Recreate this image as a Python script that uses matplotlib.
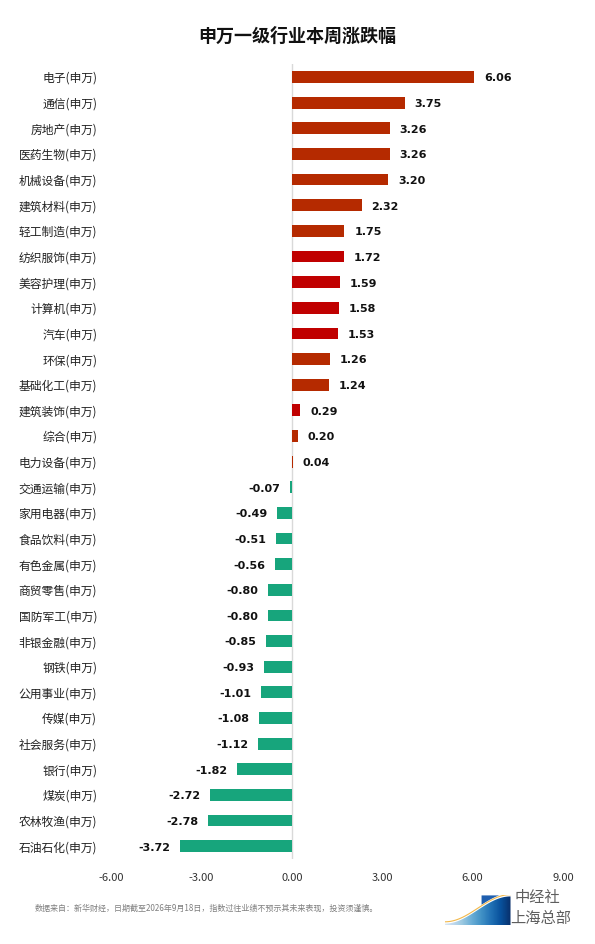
import matplotlib
matplotlib.use("Agg")
import matplotlib.pyplot as plt
import numpy as np
from matplotlib.patches import Polygon

plt.rcParams['font.family'] = ['Noto Sans CJK SC', 'DejaVu Sans']

# data
industries = ['电子', '通信', '房地产', '医药生物', '机械设备', '建筑材料', '轻工制造',
              '纺织服饰', '美容护理', '计算机', '汽车', '环保', '基础化工', '建筑装饰',
              '综合', '电力设备', '交通运输', '家用电器', '食品饮料', '有色金属',
              '商贸零售', '国防军工', '非银金融', '钢铁', '公用事业', '传媒', '社会服务',
              '银行', '煤炭', '农林牧渔', '石油石化']
changes = [6.06, 3.75, 3.26, 3.26, 3.20, 2.32, 1.75, 1.72, 1.59, 1.58, 1.53, 1.26,
           1.24, 0.29, 0.20, 0.04, -0.07, -0.49, -0.51, -0.56, -0.80, -0.80, -0.85,
           -0.93, -1.01, -1.08, -1.12, -1.82, -2.72, -2.78, -3.72]
red_ones = ['纺织服饰', '美容护理', '计算机', '汽车', '建筑装饰']
x_ticks = [-6, -3, 0, 3, 6, 9]

labels = [s + '(申万)' for s in industries]
colors = []
for name, v in zip(industries, changes):
    if v < 0:
        colors.append('#17A57C')
    elif name in red_ones:
        colors.append('#C00000')
    else:
        colors.append('#B52A00')

fig = plt.figure(figsize=(5.95, 9.44), dpi=100)
ax = fig.add_axes([0.1866, 0.090, 0.7594, 0.842])

y = np.arange(len(labels))
ax.barh(y, changes, height=0.46, color=colors)
ax.set_ylim(len(labels) - 0.5, -0.5)
ax.set_xlim(-6, 9)
ax.set_yticks(y)
ax.set_yticklabels(labels, fontsize=8.5, color='#222222')
ax.set_xticks(x_ticks)
ax.set_xticklabels(['%.2f' % t for t in x_ticks], fontsize=8, color='#333333')
ax.tick_params(axis='both', length=0)
ax.tick_params(axis='y', pad=10)
ax.tick_params(axis='x', pad=10)
for sp in ax.spines.values():
    sp.set_visible(False)
ax.axvline(0, color='#D9D9D9', lw=1, zorder=0)

for yi, v in zip(y, changes):
    if v >= 0:
        ax.annotate('%.2f' % v, (v, yi), xytext=(7, -1), textcoords='offset points',
                    ha='left', va='center', fontsize=8, fontweight='bold',
                    color='#111111', family='DejaVu Sans')
    else:
        ax.annotate('%.2f' % v, (v, yi), xytext=(-7, -1), textcoords='offset points',
                    ha='right', va='center', fontsize=8, fontweight='bold',
                    color='#111111', family='DejaVu Sans')

fig.text(0.5, 0.961, '申万一级行业本周涨跌幅', ha='center', va='center',
         fontsize=13, fontweight='bold', color='#111111')

fig.text(0.059, 0.038, '数据来自：新华财经，日期截至2026年9月18日，指数过往业绩不预示其未来表现，投资须谨慎。',
         ha='left', va='center', fontsize=5.8, color='#7F7F7F')

# logo
lax = fig.add_axes([0.748, 0.020, 0.11, 0.032])
lax.set_xlim(0, 1)
lax.set_ylim(0, 1)
lax.axis('off')
grad = np.linspace(0, 1, 100).reshape(1, -1)
im = lax.imshow(grad, extent=[0, 1, 0, 1], cmap='Blues', vmin=-0.2, vmax=1.0,
                aspect='auto')
t = np.linspace(0, 1, 50)
curve = 0.05 + 0.9 * (1 - np.cos(t * np.pi)) / 2
pts = np.vstack([[[0, 0]], np.column_stack([t, curve]), [[1, 0]]])
poly = Polygon(pts, closed=True, transform=lax.transData, facecolor='none', edgecolor='none')
lax.add_patch(poly)
im.set_clip_path(poly)
t2 = np.linspace(0.55, 1, 30)
top = 0.05 + 0.9 * (1 - np.cos(t2 * np.pi)) / 2 + 0.12
lax.fill_between(t2, np.minimum(top, 1), 1, color='#1F5FAF', lw=0)
lax.plot(t, curve + 0.06, color='#F2B84B', lw=0.8)
fig.text(0.865, 0.049, '中经社', ha='left', va='center', fontsize=11, color='#5E5E5E')
fig.text(0.857, 0.027, '上海总部', ha='left', va='center', fontsize=11, color='#5E5E5E')

fig.savefig('out.png', dpi=100)
